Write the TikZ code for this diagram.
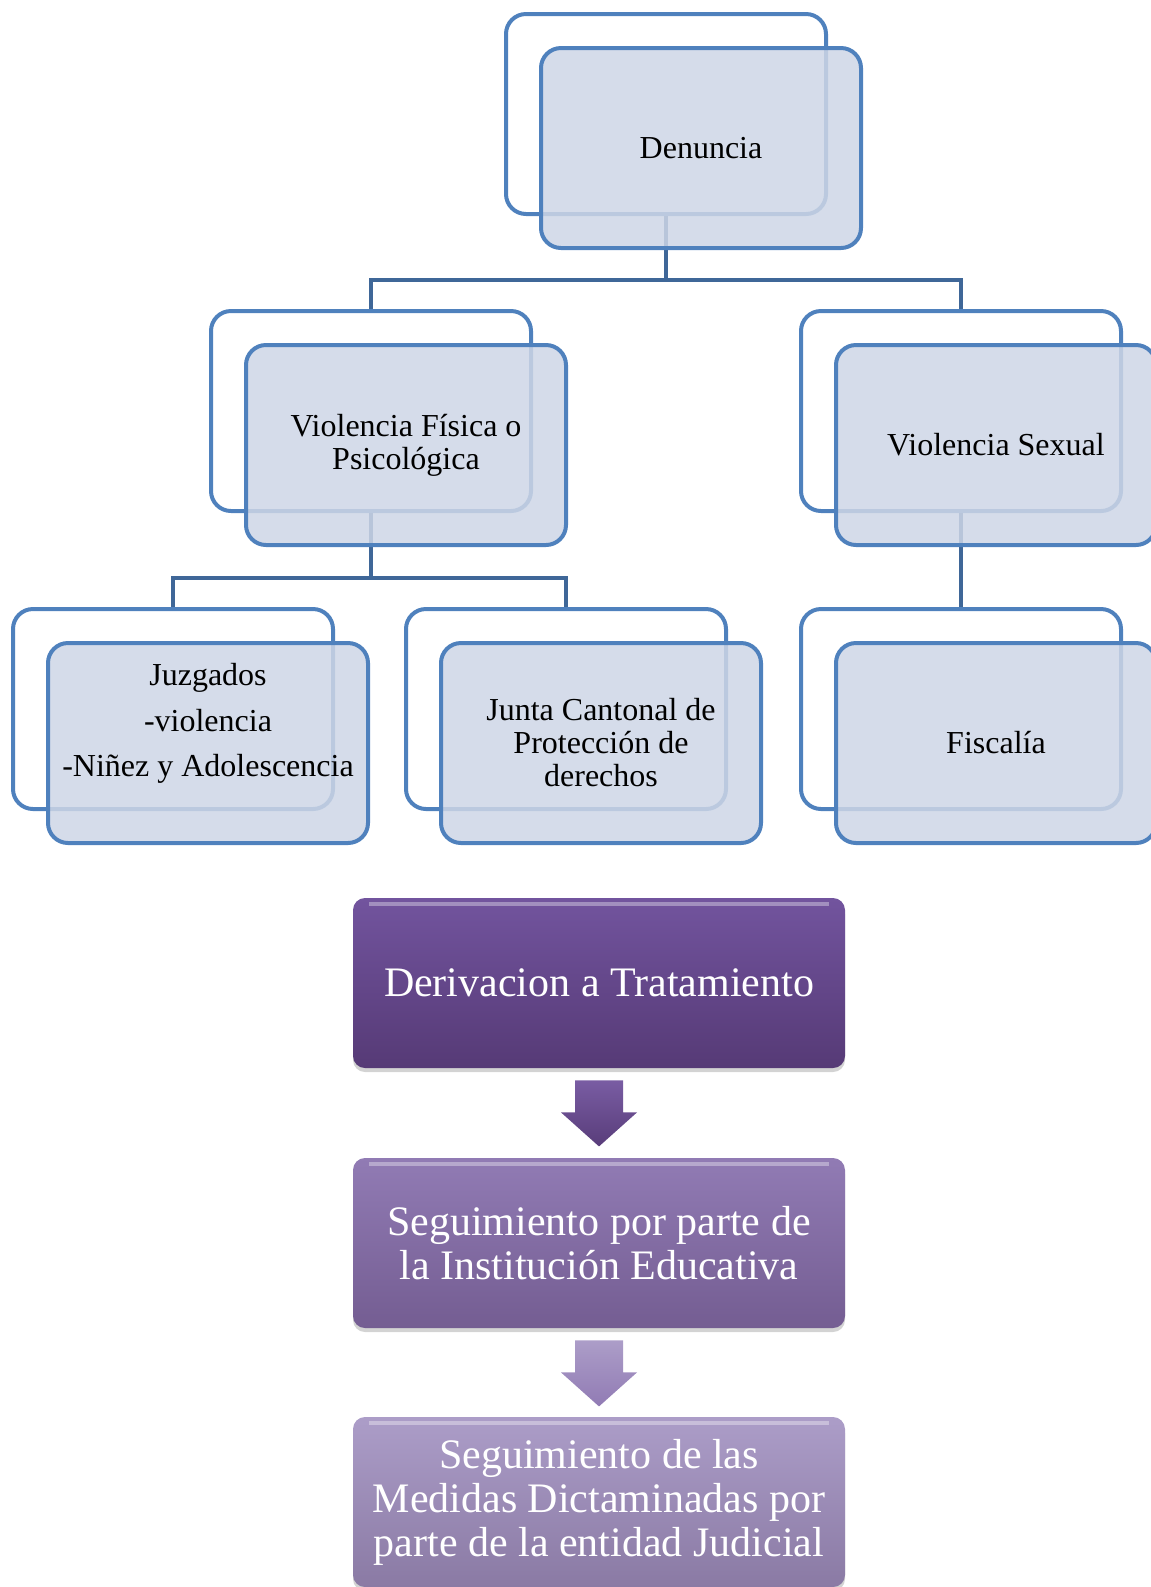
\documentclass[tikz,border=0pt]{standalone}
\usepackage{fontspec}
\setmainfont{Liberation Serif}
\usetikzlibrary{positioning}
\usetikzlibrary{shadows}
\definecolor{boxline}{RGB}{79,129,189}
\definecolor{boxfill}{RGB}{206,214,230}
\definecolor{connline}{RGB}{63,103,152}
\definecolor{pasoatop}{RGB}{114,84,158}
\definecolor{pasoabot}{RGB}{86,58,118}
\definecolor{pasobtop}{RGB}{145,123,180}
\definecolor{pasobbot}{RGB}{116,93,146}
\definecolor{pasoctop}{RGB}{172,157,200}
\definecolor{pasocbot}{RGB}{138,122,164}
\tikzset{%
  backbox/.style={rectangle,rounded corners=10pt,draw=boxline,line width=2pt,minimum width=160pt,minimum height=100pt}
}
\tikzset{%
  frontbox/.style={backbox,fill=boxfill,fill opacity=0.85,text opacity=1,align=center,font=\fontsize{16}{16.5}\selectfont}
}
\tikzset{%
  conn/.style={draw=connline,line width=2pt}
}
\tikzset{%
  pasobox/.style={rectangle,rounded corners=6pt,minimum width=246pt,minimum height=85pt,text=white,align=center,
    font=\fontsize{21}{22}\selectfont,drop shadow={opacity=0.35,shadow xshift=0pt,shadow yshift=-2pt},
    path picture={\draw[white,opacity=0.35,line width=2pt] ([xshift=8pt,yshift=-3pt]path picture bounding box.north west) -- ([xshift=-8pt,yshift=-3pt]path picture bounding box.north east);}},
  pasoa/.style={pasobox,top color=pasoatop,bottom color=pasoabot},
  pasob/.style={pasobox,top color=pasobtop,bottom color=pasobbot},
  pasoc/.style={pasobox,top color=pasoctop,bottom color=pasocbot},
  flechaa/.style={top color=pasoatop!95!white,bottom color=pasoabot!90!pasoatop},
  flechab/.style={top color=pasoctop,bottom color=pasobtop}
}
\newcommand\flecha[2]{\path[#2] (#1) ++(-24,0) -- ++(48,0) -- ++(0,32) -- ++(14,0) -- ++(-38,34) -- ++(-38,-34) -- ++(14,0) -- cycle;}
\begin{document}
\begin{tikzpicture}[x=0.5pt,y=-0.5pt]
  \path[use as bounding box,clip] (0,0) rectangle (1151,1587);

  % back boxes
  \node[backbox](denb) at (666,114){};
  \node[backbox](vfb) at (371,411){};
  \node[backbox](vsb) at (961,411){};
  \node[backbox](juzb) at (173,709){};
  \node[backbox](junb) at (566,709){};
  \node[backbox](fisb) at (961,709){};

  % connectors
  \draw[conn] (denb.south) -- ++(0,64) -| (vfb.north);
  \draw[conn] (denb.south) -- ++(0,64) -| (vsb.north);
  \draw[conn] (vfb.south) -- ++(0,65) -| (juzb.north);
  \draw[conn] (vfb.south) -- ++(0,65) -| (junb.north);
  \draw[conn] (vsb.south) -- (fisb.north);

  % front boxes
  \node[frontbox](denf) at ([shift={(35,34)}]denb.center){Denuncia};
  \node[frontbox](vff) at ([shift={(35,34)}]vfb.center){Violencia Física o\\Psicológica};
  \node[frontbox](vsf) at ([shift={(35,34)}]vsb.center){Violencia Sexual};
  \node[frontbox](juzf) at ([shift={(35,34)}]juzb.center){Juzgados\\[6.3pt]-violencia\\[6.3pt]-Niñez y Adolescencia\\[6.3pt]\mbox{}};
  \node[frontbox](junf) at ([shift={(35,34)}]junb.center){Junta Cantonal de\\Protección de\\derechos};
  \node[frontbox](fisf) at ([shift={(35,34)}]fisb.center){Fiscalía};

  % pasos
  \node[pasoa](der) at (599,983){Derivacion a Tratamiento};
  \node[pasob](seg) at (599,1243){Seguimiento por parte de\\la Institución Educativa};
  \node[pasoc](med) at (599,1502){Seguimiento de las\\Medidas Dictaminadas por\\parte de la entidad Judicial};

  \coordinate (fa) at ([yshift=-6pt]der.south);
  \coordinate (fb) at ([yshift=-6pt]seg.south);
  \flecha{fa}{flechaa}
  \flecha{fb}{flechab}
\end{tikzpicture}
\end{document}
